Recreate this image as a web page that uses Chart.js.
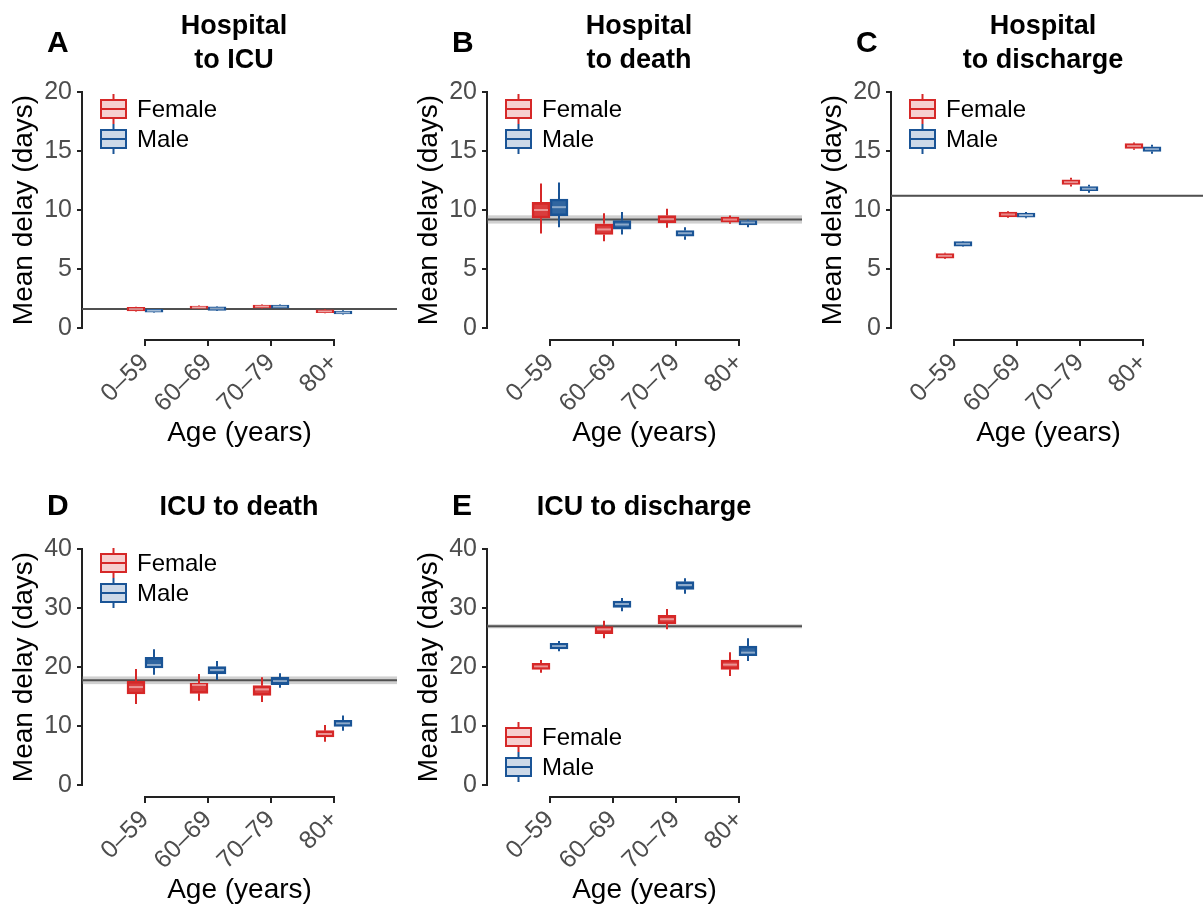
<!DOCTYPE html>
<html><head><meta charset="utf-8">
<script src="https://cdn.jsdelivr.net/npm/chart.js@4.4.1/dist/chart.umd.min.js"></script>
<style>
html,body{margin:0;padding:0;background:#fff;overflow:hidden;width:1203px;height:908px;position:relative;}
canvas{position:absolute;}
</style></head><body>
<canvas id="cA"></canvas><canvas id="cB"></canvas><canvas id="cC"></canvas><canvas id="cD"></canvas><canvas id="cE"></canvas>
<script>
// ---- data: each entry = [lower whisker, Q1, median, Q3, upper whisker] ----
const ageGroups = ['0–59', '60–69', '70–79', '80+'];
const sexes = ['Female', 'Male'];

const hospIcuFemale = [[1.40,1.45,1.60,1.75,1.80],[1.60,1.65,1.75,1.86,1.90],[1.65,1.70,1.82,1.95,2.00],[1.25,1.30,1.41,1.53,1.58]];
const hospIcuMale   = [[1.30,1.34,1.46,1.58,1.62],[1.45,1.50,1.65,1.80,1.85],[1.65,1.68,1.81,1.95,2.00],[1.15,1.20,1.31,1.44,1.50]];

const hospDeathFemale = [[8.00,9.30,10.00,10.65,12.25],[7.36,7.92,8.35,8.83,9.73],[8.49,8.91,9.22,9.53,10.10],[8.83,8.97,9.19,9.39,9.53]];
const hospDeathMale   = [[8.54,9.50,10.24,10.93,12.33],[7.92,8.37,8.77,9.11,9.82],[7.47,7.78,8.03,8.26,8.54],[8.54,8.74,8.94,9.11,9.20]];

const hospDischFemale = [[5.85,5.91,6.11,6.31,6.37],[9.34,9.42,9.62,9.82,9.90],[11.99,12.16,12.36,12.56,12.73],[15.10,15.22,15.42,15.62,15.73]];
const hospDischMale   = [[6.88,6.93,7.13,7.33,7.38],[9.31,9.39,9.56,9.73,9.82],[11.46,11.63,11.80,11.99,12.14],[14.77,14.96,15.16,15.36,15.53]];

const icuDeathFemale = [[13.73,15.42,16.60,17.60,19.66],[14.30,15.54,16.95,17.25,18.80],[14.07,15.20,16.20,16.84,18.25],[7.34,8.14,8.64,9.21,10.17]];
const icuDeathMale   = [[18.70,19.83,20.34,21.64,23.00],[17.80,18.81,19.50,20.06,21.00],[16.50,17.00,17.63,18.30,18.93],[9.20,9.94,10.45,10.96,11.80]];

const icuDischFemale = [[19.04,19.60,20.10,20.62,21.20],[24.86,25.65,26.40,26.84,27.85],[26.38,27.29,28.10,28.76,29.83],[18.47,19.60,20.40,21.19,22.50]];
const icuDischMale   = [[22.66,23.05,23.56,24.00,24.40],[29.43,30.11,30.68,31.19,31.70],[32.43,33.16,33.90,34.46,35.03],[21.02,21.92,22.43,23.56,24.86]];

// overall (pooled) mean delay per panel A..E with its band
const pooledMean = [1.61, 9.20, 11.20, 17.75, 26.90];
const pooledLow  = [1.56, 8.85, 11.14, 17.10, 26.55];
const pooledHigh = [1.66, 9.55, 11.26, 18.40, 27.25];

const yMaxes = [20, 20, 20, 40, 40];
const yTickSteps = [5, 5, 5, 10, 10];
const panelLetters = ['A', 'B', 'C', 'D', 'E'];
const panelTitles = [['Hospital','to ICU'], ['Hospital','to death'], ['Hospital','to discharge'], ['ICU to death'], ['ICU to discharge']];

// ---- styling ----
const FONT = '"Liberation Sans", Arial, Helvetica, sans-serif';
const RED = 'rgb(214,40,40)', BLUE = 'rgb(26,84,150)';
const RED_FILL = 'rgba(214,40,40,0.9)', BLUE_FILL = 'rgba(26,84,150,0.9)';
const RED_LIGHT = 'rgba(214,40,40,0.22)', BLUE_LIGHT = 'rgba(26,84,150,0.22)';

const layout = [
  {id:'cA', left:0,   top:0,   legend:'top', row:0},
  {id:'cB', left:405, top:0,   legend:'top', row:0},
  {id:'cC', left:809, top:0,   legend:'top', row:0},
  {id:'cD', left:0,   top:457, legend:'top', row:1},
  {id:'cE', left:405, top:457, legend:'bottom', row:1}
];
const statsBySex = [
  [hospIcuFemale, hospIcuMale], [hospDeathFemale, hospDeathMale], [hospDischFemale, hospDischMale],
  [icuDeathFemale, icuDeathMale], [icuDischFemale, icuDischMale]
];

const boxPlugin = {
  id: 'boxDeco',
  beforeDatasetsDraw(chart, args, o) {
    const ctx = chart.ctx, ca = chart.chartArea, y = chart.scales.y;
    ctx.save();
    const yl = y.getPixelForValue(o.refLow), yh = y.getPixelForValue(o.refHigh);
    ctx.fillStyle = 'rgba(120,120,120,0.35)';
    ctx.fillRect(ca.left, yh, ca.right - ca.left, yl - yh);
    ctx.strokeStyle = '#505050'; ctx.lineWidth = 2;
    const ym = y.getPixelForValue(o.refMean);
    ctx.beginPath(); ctx.moveTo(ca.left, ym); ctx.lineTo(ca.right, ym); ctx.stroke();
    chart.data.datasets.forEach((ds, di) => {
      const meta = chart.getDatasetMeta(di);
      ctx.strokeStyle = ds.borderColor; ctx.lineWidth = 2;
      meta.data.forEach((el, i) => {
        const s = ds.stats[i];
        ctx.beginPath();
        ctx.moveTo(el.x, y.getPixelForValue(s[0])); ctx.lineTo(el.x, y.getPixelForValue(s[1]));
        ctx.moveTo(el.x, y.getPixelForValue(s[3])); ctx.lineTo(el.x, y.getPixelForValue(s[4]));
        ctx.stroke();
      });
    });
    ctx.restore();
  },
  afterDatasetsDraw(chart, args, o) {
    const ctx = chart.ctx, ca = chart.chartArea, y = chart.scales.y, x = chart.scales.x;
    ctx.save();
    chart.data.datasets.forEach((ds, di) => {
      const meta = chart.getDatasetMeta(di);
      ctx.strokeStyle = 'rgba(255,255,255,0.45)'; ctx.lineWidth = 2;
      meta.data.forEach((el, i) => {
        const ymed = y.getPixelForValue(ds.stats[i][2]);
        ctx.beginPath(); ctx.moveTo(el.x - el.width / 2 + 2, ymed); ctx.lineTo(el.x + el.width / 2 - 2, ymed); ctx.stroke();
      });
    });
    const ax = ca.bottom + 12;
    const x0 = x.getPixelForValue(1), x1 = x.getPixelForValue(ageGroups.length);
    ctx.strokeStyle = '#222'; ctx.lineWidth = 2;
    ctx.beginPath(); ctx.moveTo(x0, ax); ctx.lineTo(x1, ax); ctx.stroke();
    for (let i = 1; i <= ageGroups.length; i++) {
      const px = x.getPixelForValue(i);
      ctx.beginPath(); ctx.moveTo(px, ax - 1); ctx.lineTo(px, ax + 6); ctx.stroke();
    }
    const rows = o.legend === 'top' ? [ca.top + (o.row ? 14 : 17), ca.top + (o.row ? 44 : 47)] : [ca.bottom - 48, ca.bottom - 18];
    const gl = ca.left + 19;
    chart.data.datasets.forEach((ds, di) => {
      const cy = rows[di];
      ctx.strokeStyle = ds.borderColor; ctx.lineWidth = 2;
      ctx.beginPath(); ctx.moveTo(gl + 12.5, cy - 15); ctx.lineTo(gl + 12.5, cy + 15); ctx.stroke();
      ctx.fillStyle = '#fff'; ctx.fillRect(gl, cy - 9, 25, 18);
      ctx.fillStyle = ds.lightColor; ctx.fillRect(gl, cy - 9, 25, 18);
      ctx.strokeRect(gl, cy - 9, 25, 18);
      ctx.beginPath(); ctx.moveTo(gl, cy); ctx.lineTo(gl + 25, cy); ctx.stroke();
      ctx.fillStyle = '#000'; ctx.font = '24px ' + FONT; ctx.textBaseline = 'middle'; ctx.textAlign = 'left';
      ctx.fillText(ds.label, gl + 36, cy + 1);
    });
    ctx.restore();
  },
  afterDraw(chart, args, o) {
    const ctx = chart.ctx, ca = chart.chartArea;
    ctx.save();
    ctx.fillStyle = '#000'; ctx.textBaseline = 'alphabetic';
    ctx.font = 'bold 30px ' + FONT; ctx.textAlign = 'left';
    ctx.fillText(o.letter, ca.left - 35, o.row ? 58 : 52);
    ctx.font = 'bold 27px ' + FONT; ctx.textAlign = 'center';
    if (o.title.length === 2) {
      ctx.fillText(o.title[0], ca.left + 152, 34);
      ctx.fillText(o.title[1], ca.left + 152, 68);
    } else {
      ctx.fillText(o.title[0], ca.left + 157, 58);
    }
    ctx.restore();
  }
};

layout.forEach((L, p) => {
  const cv = document.getElementById(L.id);
  cv.width = 410; cv.height = 455;
  cv.style.left = L.left + 'px'; cv.style.top = L.top + 'px';
  cv.style.width = '410px'; cv.style.height = '455px';
  const [fem, mal] = statsBySex[p];
  new Chart(cv.getContext('2d'), {
    type: 'bar',
    data: {
      labels: ['', ...ageGroups, ''],
      datasets: [
        {label: sexes[0], stats: fem, lightColor: RED_LIGHT,
         data: ageGroups.map((g, i) => ({x: g, y: [fem[i][1], fem[i][3]]})),
         backgroundColor: RED_FILL, borderColor: RED, borderWidth: 2, borderSkipped: false, barThickness: 18},
        {label: sexes[1], stats: mal, lightColor: BLUE_LIGHT,
         data: ageGroups.map((g, i) => ({x: g, y: [mal[i][1], mal[i][3]]})),
         backgroundColor: BLUE_FILL, borderColor: BLUE, borderWidth: 2, borderSkipped: false, barThickness: 18}
      ]
    },
    options: {
      responsive: false, animation: false, devicePixelRatio: 1,
      layout: {padding: {left: 0, right: 13, top: 92, bottom: 0}},
      plugins: {
        legend: {display: false}, tooltip: {enabled: false},
        boxDeco: {refMean: pooledMean[p], refLow: pooledLow[p], refHigh: pooledHigh[p],
                  legend: L.legend, row: L.row, letter: panelLetters[p], title: panelTitles[p]}
      },
      scales: {
        x: {
          type: 'category', offset: false,
          grid: {display: false, drawTicks: false}, border: {display: false},
          ticks: {autoSkip: false, minRotation: 45, maxRotation: 45, padding: 20,
                  font: {size: 25, family: FONT}, color: '#4d4d4d'},
          title: {display: true, text: 'Age (years)', font: {size: 28, family: FONT}, color: '#000',
                  padding: {top: 0, bottom: 5}},
          afterFit(s) { s.height = 127; s.paddingLeft = 0; s.paddingRight = 0; }
        },
        y: {
          min: 0, max: yMaxes[p],
          ticks: {stepSize: yTickSteps[p], padding: 5, font: {size: 25, family: FONT}, color: '#4d4d4d'},
          grid: {drawOnChartArea: false, drawTicks: true, tickLength: 5, color: '#222', lineWidth: 2},
          border: {display: true, color: '#222', width: 2},
          title: {display: true, text: 'Mean delay (days)', font: {size: 28, family: FONT}, color: '#000',
                  padding: {top: 7, bottom: 0}},
          afterFit(s) { s.width = 82; s.paddingTop = 0; s.paddingBottom = 0; }
        }
      }
    },
    plugins: [boxPlugin]
  });
});
</script>
</body></html>
